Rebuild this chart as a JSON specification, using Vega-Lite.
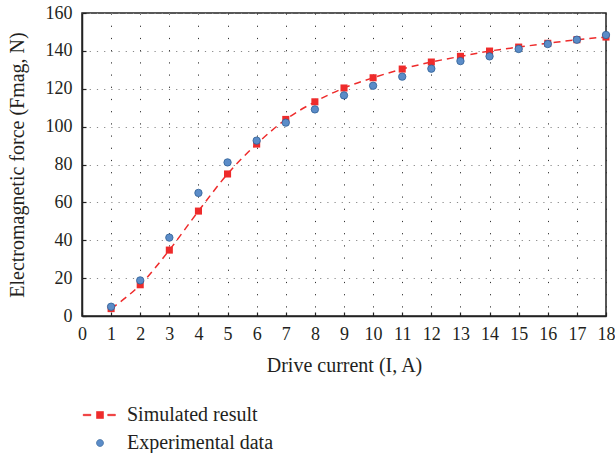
{
  "$schema": "https://vega.github.io/schema/vega-lite/v6.json",
  "width": 524,
  "height": 303,
  "autosize": {"type": "none"},
  "padding": {"left": 82, "top": 13, "right": 9, "bottom": 137},
  "background": "white",
  "config": {
    "font": "Liberation Serif",
    "view": {"stroke": "#222222", "strokeWidth": 1.5},
    "axis": {
      "labelFont": "Liberation Serif",
      "titleFont": "Liberation Serif",
      "labelFontSize": 18,
      "titleFontSize": 20,
      "labelColor": "#231f20",
      "titleColor": "#231f20",
      "titleFontWeight": "normal",
      "domainColor": "#222222",
      "domainWidth": 1.5,
      "tickColor": "#222222",
      "tickSize": -4,
      "tickWidth": 1.2
    },
    "legend": {
      "labelFont": "Liberation Serif",
      "labelFontSize": 20,
      "labelColor": "#231f20"
    }
  },
  "data": {
    "values": [
      {"I": 1, "F": 3.9, "series": "Simulated result"},
      {"I": 2, "F": 16.5, "series": "Simulated result"},
      {"I": 3, "F": 34.8, "series": "Simulated result"},
      {"I": 4, "F": 55.4, "series": "Simulated result"},
      {"I": 5, "F": 75, "series": "Simulated result"},
      {"I": 6, "F": 90.8, "series": "Simulated result"},
      {"I": 7, "F": 103.8, "series": "Simulated result"},
      {"I": 8, "F": 113.1, "series": "Simulated result"},
      {"I": 9, "F": 120.4, "series": "Simulated result"},
      {"I": 10, "F": 125.8, "series": "Simulated result"},
      {"I": 11, "F": 130.4, "series": "Simulated result"},
      {"I": 12, "F": 134.1, "series": "Simulated result"},
      {"I": 13, "F": 137.1, "series": "Simulated result"},
      {"I": 14, "F": 139.9, "series": "Simulated result"},
      {"I": 15, "F": 142, "series": "Simulated result"},
      {"I": 16, "F": 144, "series": "Simulated result"},
      {"I": 17, "F": 145.9, "series": "Simulated result"},
      {"I": 18, "F": 147.3, "series": "Simulated result"},
      {"I": 1, "F": 4.9, "series": "Experimental data"},
      {"I": 2, "F": 18.8, "series": "Experimental data"},
      {"I": 3, "F": 41.4, "series": "Experimental data"},
      {"I": 4, "F": 65, "series": "Experimental data"},
      {"I": 5, "F": 81.1, "series": "Experimental data"},
      {"I": 6, "F": 92.6, "series": "Experimental data"},
      {"I": 7, "F": 102.1, "series": "Experimental data"},
      {"I": 8, "F": 109.1, "series": "Experimental data"},
      {"I": 9, "F": 116.5, "series": "Experimental data"},
      {"I": 10, "F": 121.6, "series": "Experimental data"},
      {"I": 11, "F": 126.4, "series": "Experimental data"},
      {"I": 12, "F": 130.6, "series": "Experimental data"},
      {"I": 13, "F": 134.6, "series": "Experimental data"},
      {"I": 14, "F": 137.1, "series": "Experimental data"},
      {"I": 15, "F": 141, "series": "Experimental data"},
      {"I": 16, "F": 143.6, "series": "Experimental data"},
      {"I": 17, "F": 145.9, "series": "Experimental data"},
      {"I": 18, "F": 148.4, "series": "Experimental data"}
    ]
  },
  "encoding": {
    "x": {
      "field": "I",
      "type": "quantitative",
      "scale": {"domain": [0, 18], "nice": false},
      "axis": {
        "title": "Drive current (I, A)",
        "values": [0,1,2,3,4,5,6,7,8,9,10,11,12,13,14,15,16,17,18],
        "labelPadding": 13,
        "titlePadding": 12,
        "labelFlush": false,
        "labelOverlap": false,
        "grid": true,
        "gridColor": "#333333",
        "gridDash": [1.2, 11],
        "gridWidth": 1
      }
    },
    "y": {
      "field": "F",
      "type": "quantitative",
      "scale": {"domain": [0, 160], "nice": false},
      "axis": {
        "title": "Electromagnetic force (Fmag, N)",
        "values": [0, 20, 40, 60, 80, 100, 120, 140, 160],
        "labelPadding": 14,
        "titlePadding": 18,
        "labelFlush": false,
        "grid": true,
        "gridColor": "#888888",
        "gridDash": [1.2, 6],
        "gridWidth": 1
      }
    }
  },
  "layer": [
    {
      "transform": [{"filter": "datum.series === 'Simulated result'"}],
      "mark": {"type": "line", "color": "#ee2b2b", "strokeWidth": 1.5, "strokeDash": [7, 5], "interpolate": "monotone"},
      "encoding": {}
    },
    {
      "transform": [{"filter": "datum.series === 'Simulated result'"}],
      "mark": {"type": "point", "shape": "square", "filled": true, "size": 50, "opacity": 1, "color": "#ee2b2b"}
    },
    {
      "transform": [{"filter": "datum.series === 'Experimental data'"}],
      "mark": {"type": "point", "shape": "circle", "filled": true, "size": 55, "opacity": 1, "color": "#5b8cc8", "stroke": "#2f5f96", "strokeWidth": 0.8}
    },
    {
      "mark": {"type": "point", "filled": true, "size": 0, "strokeWidth": 0.6},
      "encoding": {
        "shape": {
          "field": "series",
          "type": "nominal",
          "scale": {
            "domain": ["Simulated result", "Experimental data"],
            "range": [
              "M-2.4,-0.1H-1.3V0.1H-2.4Z M-0.5,-0.5H0.5V0.5H-0.5Z M1.1,-0.1H2.2V0.1H1.1Z",
              "M0.5,0A0.5,0.5 0 1,1 -0.5,0A0.5,0.5 0 1,1 0.5,0Z"
            ]
          },
          "legend": null
        },
        "stroke": {
          "field": "series",
          "type": "nominal",
          "scale": {"domain": ["Simulated result", "Experimental data"], "range": ["#ee2b2b", "#2f5f96"]},
          "legend": null
        },
        "color": {
          "field": "series",
          "type": "nominal",
          "scale": {"domain": ["Simulated result", "Experimental data"], "range": ["#ee2b2b", "#5b8cc8"]},
          "legend": {
            "title": null,
            "orient": "none",
            "legendX": 8,
            "legendY": 392,
            "padding": 0,
            "rowPadding": 8,
            "labelOffset": 17,
            "symbolSize": 196,
            "symbolStrokeWidth": 0.6,
            "symbolOpacity": 1
          }
        }
      }
    }
  ]
}
